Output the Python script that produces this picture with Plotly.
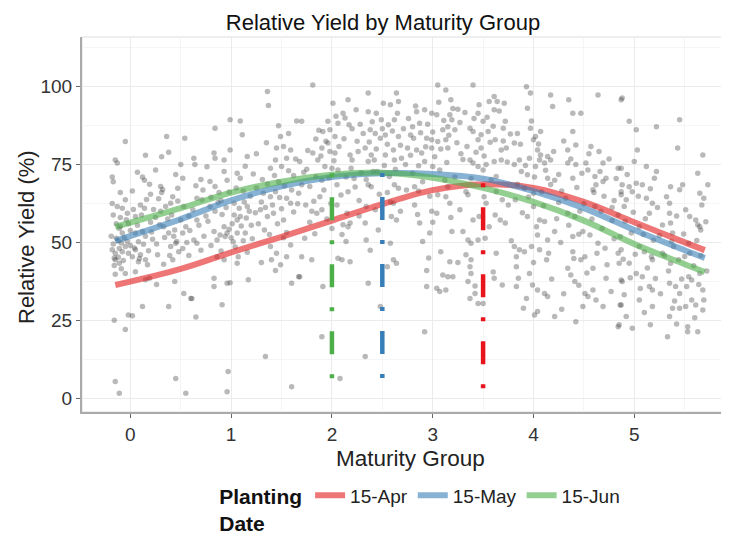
import plotly.graph_objects as go

pts_a = [(-0.05,82.4),(-0.15,76.5),(-0.13,75.5),(-0.18,71),(-0.17,69.5),(0.15,78),(0.31,77.5),(0.38,79),
         (0.36,84),(0.54,83.5),(0.5,75),(0.12,71),(0.14,70),(0.19,68.7),(0.3,68),(0.32,67),(0.47,67.4),
         (0.52,70.6),(0.42,64.7),(-0.13,61.5),(-0.08,61),(-0.05,63.7),(-0.03,59.4),(0.1,62),(0.14,61),
         (0.05,58.3),(0.3,60),(0.35,61.5),(0.4,62.6),(-0.14,56),(-0.11,54.5),(-0.08,53),(0.05,53),(0.12,53.5),
         (0.15,52),(0.33,55),(0.38,53),(0.43,52),(0.46,50.3),(0.52,53),(0.55,55),(-0.18,47.6),(-0.15,46.5),
         (-0.11,48),(-0.08,47),(-0.05,48.7),(-0.15,44.4),(-0.11,43.3),(-0.16,45),(-0.02,46.5),(0.02,45.4),
         (0.05,47.6),(0.1,46),(0.15,44.4),(0.17,42.8),(0.4,48.7),(0.45,49.7),(0.48,47),(0.52,48),(0.42,44.4),
         (-0.05,40),(0.05,40.6),(0.15,38),(0.19,38.5),(0.44,37.4),(0.53,33.6),(0.6,32),(0.12,29.4),(0.38,29.4),
         (-0.02,26.7),(0.02,26.4),(-0.16,25),(-0.05,22),(-0.15,5.3),(-0.11,1.5),(0.45,6.3),(0.55,1.5),
         (-0.17,49.5),(-0.12,50.5),(-0.06,51.5),(0.0,49),(0.08,50.2),(0.2,56.5),(0.25,58),(0.22,51),
         (-0.1,58),(-0.02,56),(0.27,46),(0.33,43),(0.08,43.8),(-0.09,41.5),(-0.15,39.8),(0.28,64),
         (0.2,65.5),(0.02,66.5),(-0.1,66),(0.58,58.5),(0.58,45.8),(0.26,36.5),
         (-0.19,52),(-0.17,58.8),(-0.16,42.6),(-0.14,51.3),(-0.12,45.2),(-0.1,55.2),(-0.09,49.8),(-0.07,44.2),
         (-0.04,57.3),(-0.03,50.3),(0.0,53.8),(0.03,60.6),(0.04,48.2),(0.07,55.5),(0.09,44.8),(0.11,58.8),
         (0.13,49.4),(0.16,63.8),(0.18,47.3),(0.21,53.3),(0.23,60.6),(0.26,49.5),(0.29,55.7),(0.31,66),
         (0.34,51.6),(0.37,57.5),(0.39,45.8),(0.41,58.8),(0.44,54),(0.47,63.3),(0.5,57.2),(0.53,61.5),
         (0.56,50),(0.59,53.8),(-0.18,62.5),(0.07,72.5),(0.25,73.3),(0.45,71.8)]

pts_b = [(1.36,98.5),(1.37,94),(0.99,89.4),(1.09,89),(0.84,86.7),(1.11,84.6),(1.65,89),(1.49,84),(1.57,85),
         (0.99,79.7),(0.83,78.7),(0.84,77),(1.16,77.6),(0.93,76.5),(0.63,77),(0.64,75),(1.45,80.3),(1.52,80.8),
         (1.59,79.7),(1.39,73.8),(1.44,76.5),(1.5,74.4),(0.93,72.8),(1.06,72.2),(1.09,70.6),(0.79,69.6),
         (0.84,68),(0.96,70),(1.32,65.8),(1.39,64.7),(1.44,66.3),(1.55,64.2),(1.59,62.6),(0.66,64.2),(0.71,63.7),
         (1.03,62.6),(1.13,63),(1.16,61.5),(0.79,61.5),(0.84,60),(1.29,60.5),(1.36,58.3),(1.42,59.4),(1.52,57.2),
         (1.03,58.8),(1.06,57.2),(1.09,58.3),(0.66,57.2),(0.93,55),(0.96,53),(0.89,52.4),(0.94,51.9),(0.83,53.5),
         (0.86,50.8),(1.06,53),(1.14,53),(0.63,50.8),(0.66,49.7),(1.39,48.7),(1.45,46.5),(1.59,49.2),(0.86,45.4),
         (0.93,44.4),(1.07,45.4),(1.06,43.3),(1.4,44.4),(1.44,41),(1.49,42.8),(1.55,45.4),(0.83,38.5),(0.83,35.8),
         (0.96,36.9),(0.99,37),(1.17,38),(1.6,36.9),(1.67,39),(0.61,32),(0.91,30),(0.65,26),(1.34,13.3),
         (0.97,8.5),(0.96,2),(1.6,3.6),(1.0,51.5),(1.02,50.2),(0.98,54.2),(1.2,55.5),(1.25,67.5),(1.22,72),
         (0.75,58.5),(0.72,66.8),(1.47,69.5),(1.62,71.5),(1.33,54),(0.9,63.5),(1.12,66.5),(0.7,47.5),
         (0.62,60.5),(0.68,55.5),(0.73,52),(0.77,56.8),(0.8,64.5),(0.88,66),(0.91,59),(0.95,61.2),(0.98,66.2),
         (1.01,56),(1.04,48.5),(1.08,61),(1.1,55.3),(1.12,50.5),(1.15,57.8),(1.18,60),(1.19,64.8),(1.21,51.2),
         (1.24,59.5),(1.27,56),(1.3,63),(1.31,70.2),(1.34,61.2),(1.36,68.8),(1.38,52.5),(1.41,62),(1.43,71.5),
         (1.46,56),(1.48,64.4),(1.5,60.8),(1.53,68.2),(1.55,53.2),(1.57,73),(1.6,66.8),(1.62,59.8),(1.64,76.8),
         (1.66,62.4),(0.7,70.2),(0.76,74.3),(0.87,62.8),(1.05,67.5),(1.14,74.5),(1.25,78.5),(1.35,82),
         (1.47,87.5),(1.55,77),(0.65,68.2),(0.8,49),(0.9,47.2),(1.16,46.8),(1.3,43.5),(1.52,51.5)]

pts_c = [(1.81,100.6),(2.36,98),(2.01,94.7),(2.16,95.8),(2.64,98),(2.51,94.7),(2.58,94.2),(2.66,95.3),(1.7,88.9),
         (2.11,91.5),(2.13,90),(2.06,88.3),(2.36,92),(2.44,91.5),(2.49,89.4),(2.56,87.8),(2.62,89.4),(1.96,88.9),
         (1.91,85.6),(1.98,86.2),(2.03,84),(2.38,86.2),(2.43,85),(2.48,83.5),(2.66,84),(1.81,78.7),(1.9,80.3),
         (1.96,81.9),(1.98,79.2),(2.03,78.7),(2.18,78.1),(2.33,80.3),(2.39,78.1),(2.53,78.1),(2.61,79.7),(1.68,76),
         (1.86,76.5),(1.93,74.4),(2.0,73.8),(2.06,73.3),(2.19,73.8),(2.36,76),(2.42,76.5),(2.62,76.5),(2.69,77),
         (1.9,70),(2.05,68.5),(2.36,68.5),(2.39,67.9),(2.62,68.5),(2.66,67.4),(1.7,68.5),(1.88,64.7),(2.16,66.3),
         (1.67,65.8),(1.8,60),(1.85,59.4),(1.9,60.5),(2.15,59.4),(2.18,56.2),(2.34,61.5),(2.33,56.2),(2.61,62.6),
         (2.59,58.3),(2.64,57.2),(2.11,55.7),(2.16,55),(2.0,54.5),(1.73,51.3),(2.14,50.3),(2.34,50.8),(2.58,49.7),
         (1.7,45.4),(1.8,44.4),(2.06,44.9),(2.1,44.4),(2.18,43.8),(2.61,44.4),(2.64,43.3),(1.68,39),(1.91,35.8),
         (2.36,36.9),(2.48,29.4),(1.9,19.7),(2.33,13.3),(2.08,6.3),(2.25,82.5),(2.28,88),(2.22,70.5),(1.75,73.5),
         (1.84,83.2),(2.45,72.8),(2.55,66),(2.27,63.5),(2.05,62),(1.78,56.5),(2.46,54),(2.2,86.5),(2.53,84.5),
         (1.72,72.5),(1.76,79.5),(1.78,68),(1.82,63.2),(1.84,71.2),(1.87,86),(1.89,77.8),(1.92,66.8),(1.94,82.5),
         (1.97,70.8),(1.99,62.5),(2.02,76.2),(2.04,90.5),(2.07,80.8),(2.09,65.2),(2.12,83.3),(2.14,71),(2.17,87.8),
         (2.2,76.5),(2.23,67.8),(2.24,92.6),(2.26,79.2),(2.29,72.4),(2.31,85),(2.34,70.2),(2.37,82.3),(2.4,88.8),
         (2.41,72.8),(2.44,80),(2.47,65.5),(2.5,86.5),(2.52,74.7),(2.55,81.5),(2.57,71.2),(2.6,85.8),(2.63,73.5),
         (2.65,91.5),(2.68,81.2),(1.74,62),(1.95,57.5),(2.1,52.5),(2.27,58.5),(2.43,60.5),(2.58,63),(2.68,60),
         (1.83,52.8),(2.38,47.5),(2.55,42.2)]

pts_d = [(3.05,100.6),(3.13,99),(3.4,100.6),(3.18,95.8),(3.61,96.9),(3.56,95.3),(3.64,95.3),(3.61,92.6),
         (3.71,94.7),(2.84,92),(2.92,92.6),(2.99,91.5),(3.04,91),(3.17,91),(3.19,89.4),(3.45,91.5),(3.5,88.9),
         (2.87,88.3),(2.8,87.2),(3.1,86.2),(3.15,87.2),(3.22,86.2),(3.37,86.7),(3.4,85.6),(3.7,86.7),(3.72,88.9),
         (3.55,85.6),(3.62,83),(2.94,83.5),(2.99,83),(3.05,82.4),(3.13,83),(3.15,80.3),(3.45,83),(3.48,80.3),
         (3.68,79.7),(3.73,80.3),(2.84,79.7),(2.89,78.7),(2.75,80.3),(2.99,80.3),(2.92,76),(3.0,74.4),(3.07,73.3),
         (3.37,76.5),(3.4,75.5),(3.45,74.4),(3.5,73.3),(3.53,75),(3.61,76),(3.68,76.5),(2.8,72.2),(2.82,67.9),
         (3.12,70),(3.15,67.9),(3.33,66.3),(3.35,65.3),(3.63,66.3),(3.69,63.7),(3.05,65.3),(2.82,62),(3.13,64.7),
         (3.17,62.6),(2.99,60),(3.04,59.4),(3.51,64.7),(3.53,62.6),(3.46,58.3),(3.67,57.2),(3.72,56.2),(3.62,58.8),
         (2.97,53),(2.87,56.2),(3.19,53.5),(3.4,57.2),(3.35,50.8),(3.38,49.7),(3.45,50.8),(3.52,51.3),(2.9,50.3),
         (3.63,46.5),(3.08,47),(3.17,43.8),(3.33,46),(3.38,44.4),(2.94,41),(3.1,39.5),(3.15,39),(3.2,39),
         (3.37,42.2),(3.38,40),(3.35,37.4),(3.61,38.5),(3.69,36.3),(2.94,35.8),(3.04,35.3),(3.07,34.2),(3.13,34.7),
         (3.37,32),(3.42,33.6),(3.45,30.4),(3.5,30.4),(2.92,21.3),(3.25,92.8),(3.28,78.5),(2.78,84.5),(3.58,70.2),
         (3.27,60.5),(2.86,66.5),
         (2.71,86.5),(2.73,75),(2.76,89.8),(2.78,78),(2.81,83.5),(2.83,93.8),(2.86,74.6),(2.88,85.2),(2.9,69.5),
         (2.93,80.7),(2.95,88),(2.97,64.8),(3.0,85.5),(3.02,77.5),(3.06,95),(3.08,80),(3.11,89.2),(3.14,75.7),
         (3.16,84.4),(3.2,93),(3.22,71),(3.24,82),(3.27,88.5),(3.3,76.6),(3.32,91.7),(3.34,80.8),(3.38,70.5),
         (3.41,89.8),(3.43,79),(3.46,94.2),(3.48,84.6),(3.51,77.8),(3.54,90.2),(3.57,82.2),(3.6,87.3),(3.63,71.2),
         (3.66,92.2),(3.7,82.6),(3.74,75.8),(3.77,84.8),(2.74,66.8),(2.85,59),(3.0,56.5),(3.18,58),(3.3,53.5),
         (3.56,55),(3.75,62),(2.96,45),(3.25,43.5),(3.6,40.5),(3.42,36),(3.78,50.5)]

pts_e = [(3.93,100),(3.97,98),(4.17,97.4),(4.35,95.8),(4.64,97.4),(4.87,95.8),(3.94,93.1),(4.19,93.7),
         (4.39,91.5),(4.47,91.5),(3.84,85),(3.97,86.7),(4.02,84),(4.0,83),(4.07,85.6),(4.39,85.6),(4.34,79.7),
         (4.42,81.3),(4.57,80.8),(4.65,79.2),(3.81,81.9),(3.86,76.5),(3.96,77),(4.04,79.7),(4.07,78.1),(4.06,76.5),
         (4.14,77.6),(4.17,76.5),(4.02,74.4),(4.11,75.5),(4.34,75.5),(4.42,75),(4.52,75.5),(4.54,73.3),(4.69,75.5),
         (4.72,70.6),(4.69,69.6),(4.84,73.8),(3.88,72.8),(3.94,71.7),(4.14,70.6),(4.21,70),(4.39,70.6),(4.61,71.2),
         (4.62,68.5),(4.59,66.9),(4.87,66.3),(3.91,67.4),(3.82,63.7),(4.0,65.8),(3.94,58.3),(4.06,57.2),(4.11,56.7),
         (4.34,59.4),(4.41,58.3),(4.46,60),(4.49,53.5),(4.61,61.5),(4.67,60),(4.0,61.5),(4.21,53.5),(4.04,52.4),
         (4.14,50.8),(4.39,51.9),(4.56,52.4),(4.64,49.7),(4.71,48.1),(4.84,46.5),(3.81,48.7),(3.86,47.6),(3.91,47),
         (3.83,45.4),(3.98,48.7),(4.06,47.6),(4.13,44.4),(4.39,47),(4.47,44.4),(4.51,45.4),(4.59,41.7),(3.83,42.2),
         (3.96,40),(4.34,41.7),(4.37,39.5),(4.41,37.4),(4.72,38.5),(4.87,37.9),(3.83,35.8),(3.99,36.3),(4.04,34.7),
         (4.11,33.6),(4.14,32.6),(4.51,33.6),(4.54,32.6),(4.59,34.7),(3.93,32),(4.69,29.4),(4.86,29.9),(4.49,29.4),
         (4.01,26.7),(4.04,27.8),(4.21,26.2),(4.42,24.5),(4.84,22.9),(4.28,66.5),(4.25,62.8),(4.78,57),(4.8,63.5),
         (3.81,75),(3.84,68.7),(3.87,81.5),(3.89,59.5),(3.92,74.7),(3.95,64.6),(3.98,89),(4.01,71),(4.03,55),
         (4.05,81.6),(4.08,66.2),(4.1,61.8),(4.12,73.2),(4.15,46.5),(4.17,68.6),(4.2,79.2),(4.23,57.6),(4.25,71.8),
         (4.27,50),(4.3,82.6),(4.32,64.2),(4.35,55.5),(4.37,76.8),(4.4,44.8),(4.43,67.6),(4.45,52.6),(4.48,72.2),
         (4.5,62.4),(4.53,40.2),(4.55,78.5),(4.58,57.5),(4.6,66),(4.63,46.5),(4.66,72.8),(4.68,54.5),(4.7,64.8),
         (4.73,42.8),(4.75,76.8),(4.78,61.2),(4.8,51.2),(3.85,38.5),(4.0,43.5),(4.18,38.2),(4.3,33.5),(4.45,36.2),
         (4.62,31.5),(4.77,34.2),(4.28,28.5),(3.9,28.8)]

pts_f = [(4.88,96.4),(4.95,88.9),(5.02,86.2),(5.22,87.2),(5.45,89.4),(5.43,80.3),(5.03,79.7),(5.0,76),
         (5.12,74.4),(5.68,78.1),(4.87,73.8),(5.22,72.8),(5.2,70.6),(5.63,72.2),(5.73,68.5),(5.36,67.9),
         (5.48,68.5),(5.45,66.9),(4.88,68.5),(4.95,67.9),(5.02,69),(5.08,68.5),(4.98,66.3),(5.65,65.8),(4.87,65.3),
         (4.92,63.7),(5.12,64.2),(5.18,62.6),(5.35,62.6),(5.69,64.2),(5.67,62),(5.51,60.5),(5.55,58.3),(4.9,61.5),
         (5.15,59.4),(5.35,59.4),(5.65,55),(5.66,54),(5.36,56.2),(5.38,53),(4.97,53),(5.05,55),(5.61,57.2),
         (5.63,55.7),(4.87,47.6),(5.05,48.7),(5.1,47),(5.39,48.7),(5.54,49.7),(5.17,45.4),(5.18,44.4),(4.85,43.3),
         (4.95,43.3),(5.36,43.3),(5.02,40),(5.08,39),(5.54,39),(5.57,37.9),(5.65,40),(4.88,37.4),(5.15,35.8),
         (5.18,34.7),(5.35,36.9),(5.41,35.8),(5.45,33.6),(5.68,34.7),(4.87,29.9),(5.05,31.5),(5.18,29.4),
         (5.38,28.8),(5.45,28.8),(5.51,29.4),(5.61,29.9),(5.68,28.3),(4.92,26.2),(4.85,23.5),(5.35,26.2),
         (4.98,22.4),(5.16,23.5),(5.53,22.9),(5.53,21.3),(5.63,21.3),(5.33,19.7),(5.25,52.2),(5.28,46.5),(5.5,45.5),
         (4.82,70.5),(4.84,58.8),(4.86,51.8),(4.89,44.6),(4.91,56.8),(4.93,71.8),(4.96,38.6),(4.99,59.7),(5.01,46.2),
         (5.04,64.8),(5.06,35.2),(5.09,52.5),(5.11,57.6),(5.13,41.8),(5.16,67.2),(5.19,50.7),(5.21,38.4),(5.23,61.2),
         (5.26,33.5),(5.28,55.6),(5.3,45.8),(5.32,64.7),(5.34,40.8),(5.37,50.3),(5.4,31.2),(5.42,58.5),(5.44,44.4),
         (5.47,38.2),(5.49,52.7),(5.52,35.8),(5.55,46.5),(5.57,31.5),(5.59,42.5),(5.62,50.6),(5.64,36.5),(5.66,45.8),
         (5.69,31.5),(5.71,56.6),(5.72,40.8),(5.6,25.8),(5.42,23.8),(5.1,27.5),(4.9,33.2)]

# ---- fitted curves per planting date ----
curve_x = [-0.15, 0.5, 1.0, 1.5, 2.0, 2.5, 3.0, 3.5, 4.0, 4.5, 5.0, 5.5, 5.7]
apr_y = [36.3, 41.5, 46.8, 51.8, 57.0, 62.3, 66.8, 68.7, 67.5, 63.0, 56.5, 50.0, 47.5]
may_y = [50.5, 57.5, 63.5, 68.0, 71.0, 72.2, 72.0, 70.5, 66.5, 61.0, 54.0, 47.5, 45.0]
jun_y = [55.0, 61.0, 66.0, 69.5, 71.7, 72.4, 70.8, 67.5, 63.0, 57.0, 49.5, 43.0, 40.5]

series_names = ["15-Apr", "15-May", "15-Jun"]
series_curves = [apr_y, may_y, jun_y]
curve_colors = ["rgba(228,26,28,0.6)", "rgba(55,126,184,0.6)", "rgba(77,175,74,0.6)"]
solid_colors = ["#E8141C", "#377EB8", "#4DAF4A"]

# ---- optimum maturity group markers ----
opt_mg = [3.5, 2.5, 2.0]
opt_top = [69.0, 72.3, 72.2]
opt_bottom = [2.5, 5.8, 5.6]

pts = pts_a + pts_b + pts_c + pts_d + pts_e + pts_f
mg = [p[0] for p in pts]
ry = [p[1] for p in pts]

fig = go.Figure()
fig.add_trace(go.Scatter(x=mg, y=ry, mode="markers",
                         marker=dict(size=5.5, color="rgba(60,60,60,0.36)", line=dict(width=0)),
                         showlegend=False, hoverinfo="skip"))

for name, yv, c in zip(series_names, series_curves, curve_colors):
    fig.add_trace(go.Scatter(x=curve_x, y=yv, mode="lines", name=name,
                             line=dict(color=c, width=6, shape="spline", smoothing=1.0)))

for xm, t, b, c in zip(opt_mg, opt_top, opt_bottom, solid_colors):
    fig.add_trace(go.Scatter(x=[xm, xm], y=[t, b], mode="lines", showlegend=False,
                             line=dict(color=c, width=4.5, dash="4px,20px,23px,20px")))

font_family = "Liberation Sans, Arial, sans-serif"

# The page adds an 8px body margin, so the figure is drawn 8px smaller and shifted.
W, H = 721, 528
fig.update_layout(
    width=W, height=H,
    margin=dict(l=74, r=0, t=29, b=124, autoexpand=False),
    plot_bgcolor="white", paper_bgcolor="white",
    font=dict(family=font_family, color="#222"),
    title=dict(text="Relative Yield by Maturity Group", x=375 / W, xref="container", xanchor="center",
               y=1 - 14 / H, yref="container", yanchor="middle", font=dict(size=22, color="#111")),
    xaxis=dict(range=[-0.48, 5.94], tickvals=[0, 1, 2, 3, 4, 5], ticks="outside", ticklen=4,
               tickcolor="#666", tickfont=dict(size=19, color="#333"), showgrid=True, automargin=False,
               gridcolor="#EBEBEB", gridwidth=1, zeroline=False, showline=True, linecolor="#AAAAAA",
               linewidth=2, minor=dict(dtick=0.5, tick0=0.5, showgrid=True, gridcolor="#F5F5F5", gridwidth=1)),
    yaxis=dict(range=[-4.5, 116], tickvals=[0, 25, 50, 75, 100], ticks="outside", ticklen=4,
               tickcolor="#666", tickfont=dict(size=19, color="#333"), showgrid=True, automargin=False,
               gridcolor="#EBEBEB", gridwidth=1, zeroline=False, showline=True, linecolor="#AAAAAA",
               linewidth=2, minor=dict(dtick=12.5, tick0=12.5, showgrid=True, gridcolor="#F5F5F5", gridwidth=1)),
    legend=dict(orientation="h", x=0.209, xanchor="left", y=-0.172, yanchor="top",
                title=dict(text="<b>Planting<br>Date</b>", font=dict(size=21, color="#111"), side="left"),
                font=dict(size=19, color="#222"), itemwidth=30, tracegroupgap=0,
                bgcolor="rgba(0,0,0,0)"),
    showlegend=True,
)

fig.add_shape(type="rect", xref="paper", yref="paper", x0=0, x1=1, y0=0, y1=1,
              line=dict(color="#DDDDDD", width=1), layer="below")

fig.add_annotation(text="Maturity Group", xref="paper", yref="paper", x=0.507, y=(412 - 458) / 375,
                   xanchor="center", yanchor="middle", showarrow=False, font=dict(size=22.5, color="#222"))
fig.add_annotation(text="Relative Yield (%)", xref="paper", yref="paper", x=(26 - 82) / 647,
                   y=(412 - 237) / 375, xanchor="center", yanchor="middle", textangle=-90,
                   showarrow=False, font=dict(size=22, color="#222"))

fig.write_html("out.html")
